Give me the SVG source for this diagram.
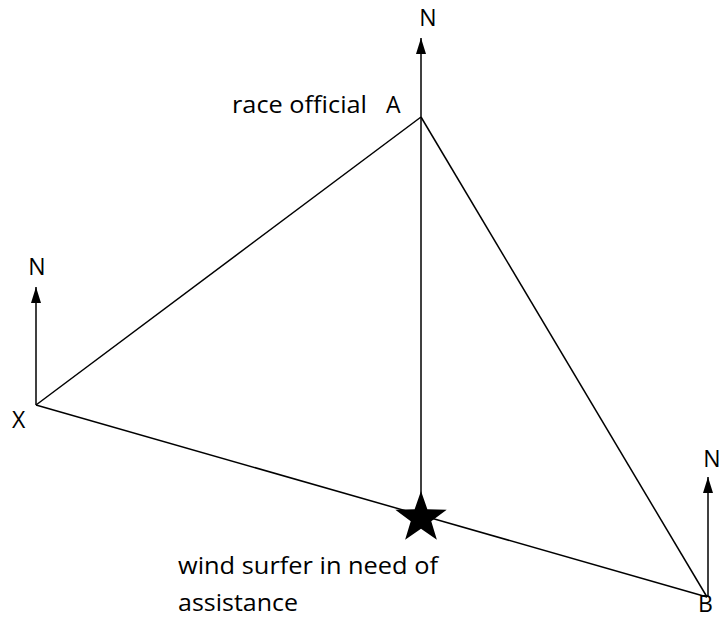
<svg xmlns="http://www.w3.org/2000/svg" width="724" height="620" viewBox="0 0 724 620">
<style>
.ln{stroke:#000;stroke-width:1.5;fill:none}
.t{font-family:"Open Sans","Liberation Sans",sans-serif;font-size:23px;fill:#000}
</style>
<defs>
<marker id="north" markerUnits="userSpaceOnUse" markerWidth="12" markerHeight="18" viewBox="-6 -1 12 18" refX="0" refY="0" orient="0">
<path d="M0,0 L5,16 L-5,16 Z" fill="#000"/>
</marker>
</defs>
<rect width="724" height="620" fill="#fff"/>
<g id="connectors">
<line class="ln" x1="421" y1="117" x2="36" y2="405"/>
<line class="ln" x1="421" y1="117" x2="707" y2="597"/>
<line class="ln" x1="36" y1="405" x2="707" y2="597"/>
<line class="ln" x1="421" y1="117" x2="421" y2="495"/>
<path class="ln" d="M421,117 L421,38" marker-end="url(#north)"/>
<path class="ln" d="M36,405 L36,287" marker-end="url(#north)"/>
<path class="ln" d="M708,597 L708,477" marker-end="url(#north)"/>
</g>
<g id="A">
<text class="t" x="232" y="113" textLength="135" lengthAdjust="spacingAndGlyphs">race official</text>
<text class="t" x="386" y="113">A</text>
<text class="t" x="428" y="26" text-anchor="middle">N</text>
</g>
<g id="X">
<text class="t" x="12" y="428">X</text>
<text class="t" x="37" y="275" text-anchor="middle">N</text>
</g>
<g id="B">
<text class="t" x="698" y="612">B</text>
<text class="t" x="712" y="467" text-anchor="middle">N</text>
</g>
<g id="surfer">
<polygon transform="translate(421,518) scale(1.08)" points="0,-25 5.9,-8.1 23.8,-7.7 9.5,3.1 14.7,20.2 0,10 -14.7,20.2 -9.5,3.1 -23.8,-7.7 -5.9,-8.1" fill="#000"/>
<text class="t" x="178" y="574" textLength="260" lengthAdjust="spacingAndGlyphs">wind surfer in need of</text>
<text class="t" x="178" y="611" textLength="120" lengthAdjust="spacingAndGlyphs">assistance</text>
</g>
</svg>
